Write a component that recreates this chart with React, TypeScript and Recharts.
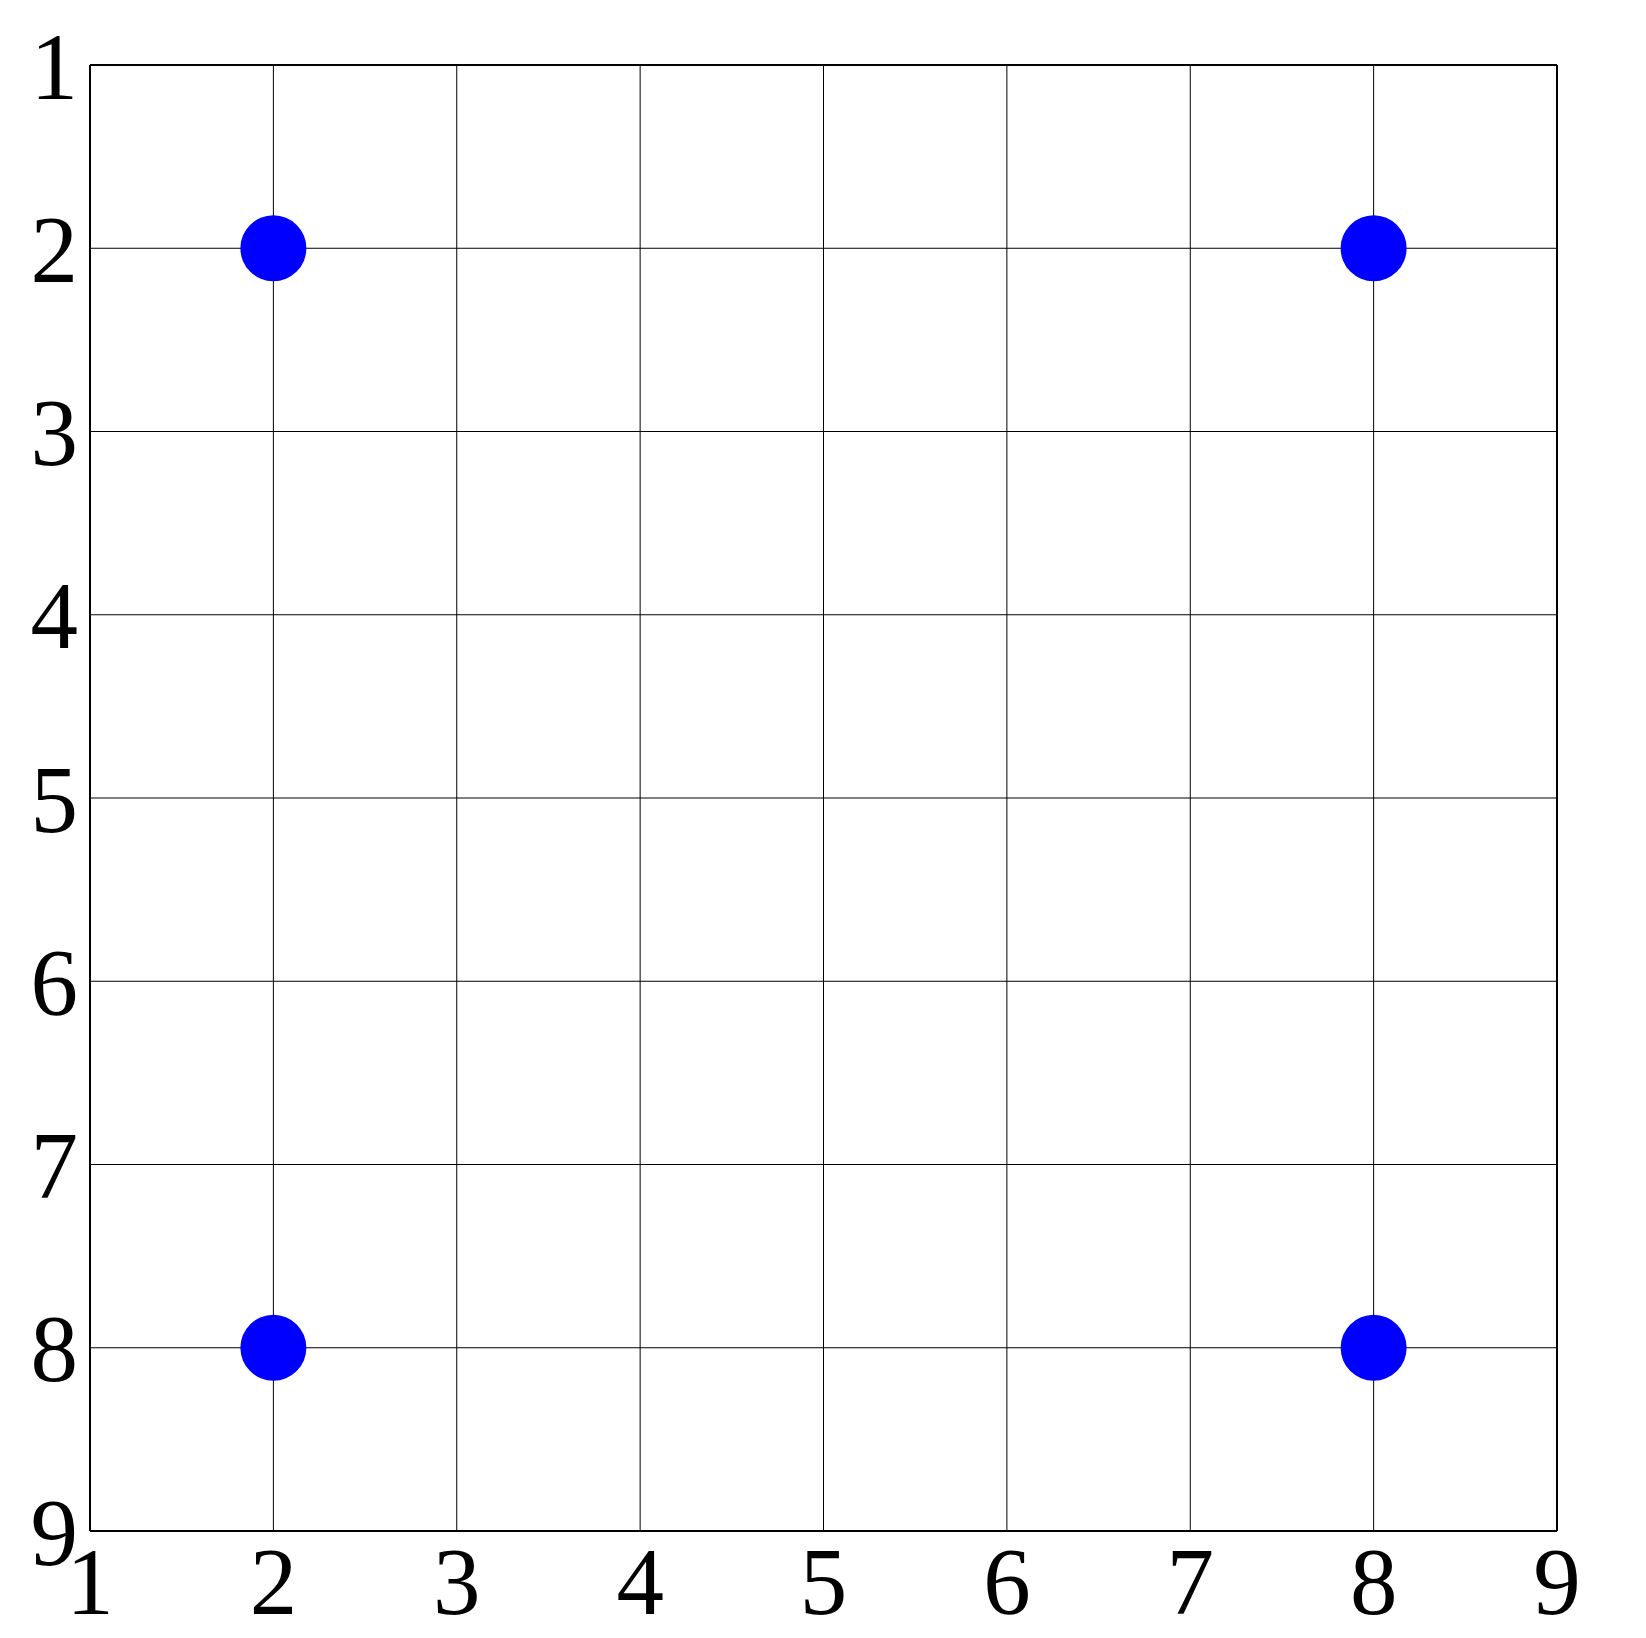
import { ScatterChart, Scatter, XAxis, YAxis, CartesianGrid, ReferenceLine } from 'recharts';

const xTicks = [1, 2, 3, 4, 5, 6, 7, 8, 9];
const yTicks = [1, 2, 3, 4, 5, 6, 7, 8, 9];
const pointX = [2, 8, 2, 8];
const pointY = [2, 2, 8, 8];

const points = pointX.map((x, i) => ({ x, y: pointY[i] }));

const tickStyle = { fontSize: 95, fill: '#000', fontFamily: '"Liberation Serif", serif' };

const Dot = (props: any) => <circle cx={props.cx} cy={props.cy} r={33} fill="#0000ff" />;

export default function App() {
  return (
    <div style={{ position: 'absolute', left: 0, top: 0, background: '#fff' }}>
      <ScatterChart width={1646} height={1638} margin={{ top: 65, right: 89, left: 0, bottom: 0 }}>
        <CartesianGrid stroke="#000" strokeWidth={1} strokeOpacity={1} />
        <XAxis
          type="number"
          dataKey="x"
          domain={[1, 9]}
          ticks={xTicks}
          allowDataOverflow
          height={107}
          tick={tickStyle}
          tickLine={false}
          tickSize={0}
          tickMargin={16}
          axisLine={{ stroke: '#000', strokeWidth: 2 }}
        />
        <YAxis
          type="number"
          dataKey="y"
          domain={[1, 9]}
          ticks={yTicks}
          reversed
          allowDataOverflow
          width={90}
          tick={tickStyle}
          tickLine={false}
          tickSize={0}
          tickMargin={12}
          axisLine={{ stroke: '#000', strokeWidth: 2 }}
        />
        <ReferenceLine x={9} stroke="#000" strokeWidth={2} />
        <ReferenceLine y={1} stroke="#000" strokeWidth={2} />
        <Scatter data={points} shape={Dot} isAnimationActive={false} />
      </ScatterChart>
    </div>
  );
}
